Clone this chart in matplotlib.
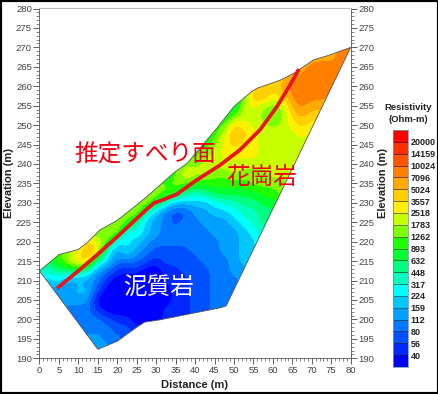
import numpy as np
import matplotlib
matplotlib.use("Agg")
import matplotlib.pyplot as plt
from matplotlib.colors import ListedColormap, BoundaryNorm
from matplotlib.patches import Polygon, Rectangle
from matplotlib.ticker import MultipleLocator

plt.rcParams['font.family'] = ['Liberation Sans', 'DejaVu Sans']

# colour scale, low to high
levels = [40, 56, 80, 112, 159, 224, 317, 448, 632, 893, 1262, 1783, 2518, 3557, 5024, 7096, 10024, 14159, 20000]
colors = ['#0000ff', '#0028ff', '#0050ff', '#0078ff', '#00a0ff', '#00c8ff', '#00ffff', '#00ffc0', '#00ff80', '#00ff30',
          '#20ff00', '#80ff00', '#c8ff00', '#fff000', '#ffd000', '#ffaa00', '#ff8000', '#ff5500', '#ff3000', '#ff0000']

# typical resistivity of each colour band
band_mid = [30, 47, 67, 95, 133, 190, 265, 375, 530, 750, 1060, 1500, 2120, 3000, 4230, 5970, 8430, 11900, 16800, 25000]

# section outline
top_x = [0, 5, 10, 12.5, 15.5, 20, 27.5, 34.5, 38, 46, 50, 54.5, 56, 62, 65.5, 70.5, 74.5, 80]
top_e = [212.5, 216.7, 218, 220, 223, 225.5, 231.5, 237.7, 240.2, 249.7, 254.8, 258.6, 259.5, 261.6, 263.4, 266.8, 268, 270]
bottom_x = [48, 46.5, 31, 27, 25, 20, 15]
bottom_e = [203.5, 203, 199.9, 199.3, 198, 194.4, 192.3]

# inferred slip surface
slip_x = [4.5, 10, 15, 20, 27.6, 29.5, 31, 35.3, 40, 46.4, 51.5, 56.7, 61, 64.4, 66.7]
slip_e = [208, 212.5, 216.8, 221.3, 228.4, 230, 230.5, 232.2, 235.6, 239.7, 243.6, 248.8, 254.7, 260.3, 264.4]

# colour band seen at each grid node, one list per distance (0 to 80, every 2.5 m),
# each going from elevation 270 down to 190 every 2.5 m
bands = [
    [8]*23 + [7] + [5]*9,
    [9]*22 + [9, 7, 5, 4] + [4]*7,
    [10]*21 + [10, 10, 8, 6, 4, 4] + [4]*6,
    [11]*20 + [11, 11, 12, 8, 4, 4, 4, 3] + [3]*5,
    [11]*20 + [11, 12, 14, 9, 4, 5, 4, 3] + [3]*5,
    [11]*19 + [11, 14, 16, 14, 7, 4, 5, 4, 3, 3, 3, 4, 4, 4],
    [10]*18 + [10, 10, 12, 14, 7, 4, 3, 2, 0, 1, 3, 3, 4, 4, 4],
    [11]*18 + [11, 11, 12, 6, 6, 3, 1, 0, 0, 0, 2, 3, 3, 4, 4],
    [11]*17 + [11, 11, 13, 5, 4, 3, 1, 0, 0, 0, 0, 1, 2, 3, 3, 3],
    [10]*16 + [10, 10, 12, 5, 6, 6, 3, 1, 0, 0, 0, 0, 1, 2, 2, 2, 2],
    [11]*15 + [11, 11, 13, 7, 7, 5, 4, 3, 1, 0, 0, 0, 0, 0, 1, 1, 1, 1],
    [11]*15 + [11, 12, 7, 5, 5, 4, 3, 2, 0, 0, 0, 0, 0, 0, 1, 1, 1, 1],
    [11]*14 + [11, 11, 10, 5, 4, 4, 3, 2, 1, 0, 0, 0, 0, 0, 0, 1, 1, 1, 1],
    [10]*13 + [10, 10, 11, 7, 3, 3, 3, 3, 2, 2, 1, 1, 0, 0, 1, 1, 1, 1, 1, 1],
    [10]*13 + [10, 11, 10, 5, 2, 2, 3, 3, 2, 2, 1, 1, 1, 1, 1, 1, 1, 1, 1, 1],
    [10]*12 + [11, 13, 11, 8, 5, 2, 3, 3, 3, 2, 2, 2, 1, 1, 1, 1, 1, 1, 1, 1, 1],
    [10]*11 + [10, 11, 12, 10, 7, 5, 4, 3, 3, 3, 3, 2, 2, 2, 2, 2, 2, 2, 2, 2, 2, 2],
    [9]*10 + [10, 11, 12, 12, 10, 8, 5, 4, 4, 3, 3, 3, 3, 2, 2, 2, 2, 2, 2, 2, 2, 2, 2],
    [10]*9 + [10, 11, 12, 12, 11, 10, 9, 6, 5, 4, 4, 3, 3, 3] + [3]*10,
    [9]*8 + [10, 12, 13, 13, 12, 11, 10, 9, 7, 5, 4, 4, 4, 4, 3, 3, 3, 3, 3] + [3]*6,
    [8]*7 + [10, 14, 15, 14, 13, 12, 12, 10, 9, 7, 6, 5, 4, 4, 4, 4, 4, 3] + [3]*8,
    [10]*5 + [10, 12, 12, 13, 14, 13, 13, 12, 11, 10, 9, 8, 7, 6, 5, 5, 5, 5] + [4]*10,
    [12]*4 + [13, 15, 13, 12, 12, 13, 13, 13, 12, 11, 11, 9, 8, 7, 7, 6, 5] + [5]*12,
    [13]*4 + [14, 15, 12, 11, 12, 12, 12, 12, 12, 11, 11, 10, 9, 8, 8] + [7]*14,
    [13]*4 + [14, 13, 11, 10, 11, 12, 12, 13, 12, 12, 11, 10, 9] + [8]*16,
    [13]*3 + [14, 15, 14, 12, 11, 12, 12, 12, 12, 12, 12, 11, 11] + [10]*17,
    [14]*3 + [15, 16, 16, 15, 14, 13, 12, 12, 12, 12, 12] + [12]*19,
    [14]*2 + [15, 16, 16, 16, 16, 15, 14, 13, 12] + [12]*22,
    [15]*2 + [16, 16, 16, 16, 15, 14, 13] + [12]*24,
    [15] + [15, 16, 16, 16, 16, 15, 14, 13] + [13]*24,
    [15]*2 + [16, 16, 16, 16] + [14]*27,
    [16]*4 + [15]*2 + [14]*27,
    [16]*4 + [15]*2 + [14]*27,
]

res = np.array(band_mid)[np.array(bands).T]

fig = plt.figure(figsize=(4.39, 3.94), dpi=100)
ax = fig.add_axes([39.5/439, 35.7/394, 311.2/439, 349.8/394])

cmap = ListedColormap(colors)
norm = BoundaryNorm(np.log10(levels), cmap.N, extend='both')
im = ax.imshow(np.log10(res), extent=[-1.25, 81.25, 188.75, 271.25], aspect='auto', cmap=cmap, norm=norm,
               interpolation='bicubic', interpolation_stage='data')
outline = Polygon(list(zip(top_x, top_e)) + list(zip(bottom_x, bottom_e)), closed=True,
                  fc='none', ec='#555555', lw=0.6, zorder=3)
ax.add_patch(outline)
im.set_clip_path(outline)

ax.plot(slip_x, slip_e, color='#ea1520', lw=2.7, solid_capstyle='butt', zorder=4)

ax.set_xlim(0, 80)
ax.set_ylim(190, 280)
ax.xaxis.set_major_locator(MultipleLocator(5))
ax.xaxis.set_minor_locator(MultipleLocator(1))
ax.yaxis.set_major_locator(MultipleLocator(5))
ax.yaxis.set_minor_locator(MultipleLocator(1))
ax.tick_params(axis='both', which='major', length=4, width=0.6, color='#444444', labelsize=6.8,
               labelcolor='#444444', pad=1.5)
ax.tick_params(axis='both', which='minor', length=2, width=0.5, color='#555555')
ax.tick_params(axis='y', which='both', left=True, right=True, labelleft=True, labelright=True)
for side in ['left', 'right', 'bottom']:
    ax.spines[side].set_color('#555555')
    ax.spines[side].set_linewidth(0.6)
ax.spines['top'].set_color('#bbbbbb')

fig.text(195/439, 1 - 385/394, 'Distance (m)', ha='center', va='center', fontsize=8, fontweight='bold', color='#222222')
fig.text(9.5/439, 1 - 183/394, 'Elevation (m)', rotation=90, ha='center', va='center', fontsize=8, fontweight='bold', color='#222222')
fig.text(383/439, 1 - 183/394, 'Elevation (m)', rotation=90, ha='center', va='center', fontsize=8, fontweight='bold', color='#222222')

# labels on the section
jp = ['Noto Sans CJK JP', 'DejaVu Sans']
ax.text(27.1, 242.3, '推定すべり面', family=jp, fontsize=17, color='#f00010', ha='center', va='center', zorder=5)
ax.text(57.2, 236.6, '花崗岩', family=jp, fontsize=17, color='#f00010', ha='center', va='center', zorder=5)
ax.text(30.5, 208.3, '泥質岩', family=jp, fontsize=17, color='white', ha='center', va='center', zorder=5)

# colour bar
cax = fig.add_axes([393/439, 1 - 367/394, 15/439, 237/394])
cax.pcolormesh([0, 1], np.arange(len(colors) + 1), np.arange(len(colors)).reshape(-1, 1),
               cmap=ListedColormap(colors), edgecolors='#00000080', linewidth=0.4)
cax.set_xticks([])
cax.set_yticks(np.arange(1, len(colors)))
cax.set_yticklabels(levels, fontsize=6.5, fontweight='bold', color='#222222')
cax.yaxis.tick_right()
cax.tick_params(axis='y', length=0, pad=2)
for s in cax.spines.values():
    s.set_color('#8899aa')
    s.set_linewidth(0.6)
fig.text(408/439, 1 - 108/394, 'Resistivity', ha='center', va='center', fontsize=6.8, fontweight='bold', color='#222222')
fig.text(408/439, 1 - 120/394, '(Ohm-m)', ha='center', va='center', fontsize=6.8, fontweight='bold', color='#222222')

# black frame round the whole image
fig.add_artist(Rectangle((0, 0), 1, 1, transform=fig.transFigure, fill=False, ec='black', lw=3))

fig.savefig('out.png', dpi=100)
